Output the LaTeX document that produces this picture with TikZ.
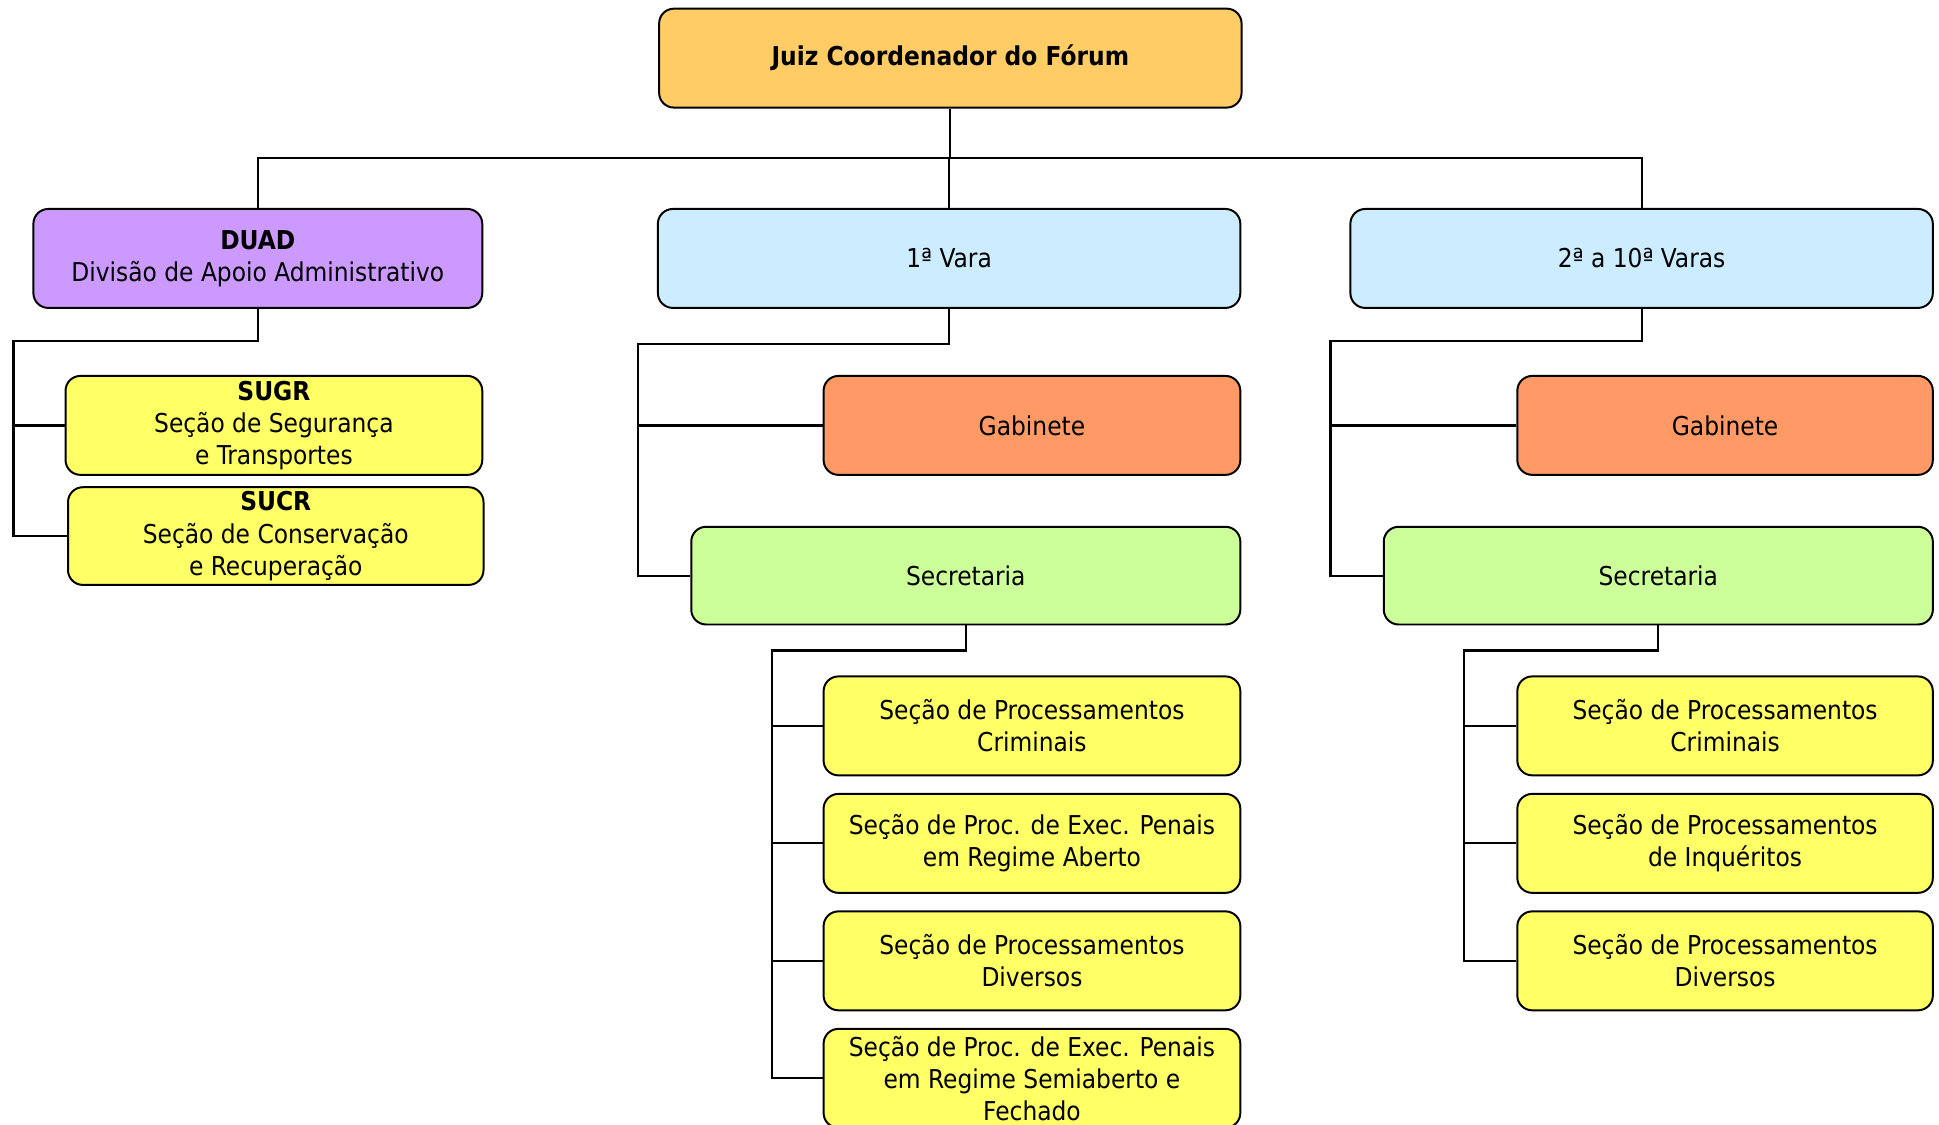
\documentclass[tikz,border=0pt]{standalone}
\usepackage{fontspec}
\setmainfont{DejaVu Sans Condensed}
\definecolor{cTop}{HTML}{FFCC66}
\definecolor{cDuad}{HTML}{CC99FF}
\definecolor{cVara}{HTML}{CCECFF}
\definecolor{cGab}{HTML}{FF9966}
\definecolor{cSec}{HTML}{CCFF99}
\definecolor{cSub}{HTML}{FFFF66}
\tikzset{
  box/.style={draw=black, line width=1.6pt, rounded corners=12pt, align=center,
    inner sep=0pt, text=black, font=\fontsize{21}{26}\selectfont},
  conn/.style={draw=black, line width=1.8pt},
}
\begin{document}
\begin{tikzpicture}[x=1pt,y=-1pt]
\useasboundingbox (0,0) rectangle (1568,909);
% level 0
\node[box, fill=cTop, minimum width=471pt, minimum height=80pt] (top) at (768.5,47) {\textbf{Juiz Coordenador do Fórum}};
% level 1
\node[box, fill=cDuad, minimum width=363pt, minimum height=80pt] (duad) at (208.5,209) {\textbf{DUAD}\\Divisão de Apoio Administrativo};
\node[box, fill=cVara, minimum width=471pt, minimum height=80pt] (vara1) at (767.5,209) {1ª Vara};
\node[box, fill=cVara, minimum width=471pt, minimum height=80pt] (vara2) at (1327.5,209) {2ª a 10ª Varas};
% DUAD children
\node[box, fill=cSub, minimum width=337pt, minimum height=80pt] (sugr) at (221.5,344) {\textbf{SUGR}\\Seção de Segurança\\e Transportes};
\node[box, fill=cSub, minimum width=336pt, minimum height=79pt] (sucr) at (223,433.5) {\textbf{SUCR}\\Seção de Conservação\\e Recuperação};
% 1a Vara children
\node[box, fill=cGab, minimum width=337pt, minimum height=80pt] (gab1) at (834.5,344) {Gabinete};
\node[box, fill=cSec, minimum width=444pt, minimum height=79pt] (sec1) at (781,465.5) {Secretaria};
\node[box, fill=cSub, minimum width=337pt, minimum height=80pt] (s1a) at (834.5,587) {Seção de Processamentos\\Criminais};
\node[box, fill=cSub, minimum width=337pt, minimum height=80pt] (s1b) at (834.5,682) {Seção de Proc. de Exec. Penais\\em Regime Aberto};
\node[box, fill=cSub, minimum width=337pt, minimum height=80pt] (s1c) at (834.5,777) {Seção de Processamentos\\Diversos};
\node[box, fill=cSub, minimum width=337pt, minimum height=80pt] (s1d) at (834.5,872) {Seção de Proc. de Exec. Penais\\em Regime Semiaberto e\\Fechado};
% 2a-10a Varas children
\node[box, fill=cGab, minimum width=336pt, minimum height=80pt] (gab2) at (1395,344) {Gabinete};
\node[box, fill=cSec, minimum width=444pt, minimum height=79pt] (sec2) at (1341,465.5) {Secretaria};
\node[box, fill=cSub, minimum width=336pt, minimum height=80pt] (s2a) at (1395,587) {Seção de Processamentos\\Criminais};
\node[box, fill=cSub, minimum width=336pt, minimum height=80pt] (s2b) at (1395,682) {Seção de Processamentos\\de Inquéritos};
\node[box, fill=cSub, minimum width=336pt, minimum height=80pt] (s2c) at (1395,777) {Seção de Processamentos\\Diversos};
% junction coordinates
\coordinate (bus) at (768.5,128);
\coordinate (dj) at (11,276);
\coordinate (v1j) at (516,278);
\coordinate (s1j) at (624,526);
\coordinate (v2j) at (1076,276);
\coordinate (s2j) at (1184,526);
% connectors
\draw[conn] (top.south) -- (bus);
\draw[conn] (duad.north) |- (bus) -- (vara2.north |- bus) -- (vara2.north);
\draw[conn] (vara1.north) -- (vara1.north |- bus);
\draw[conn] (duad.south) |- (dj) |- (sucr.west);
\draw[conn] (dj |- sugr.west) -- (sugr.west);
\draw[conn] (vara1.south) |- (v1j) |- (sec1.west);
\draw[conn] (v1j |- gab1.west) -- (gab1.west);
\draw[conn] (sec1.south) |- (s1j) |- (s1d.west);
\draw[conn] (s1j |- s1a.west) -- (s1a.west);
\draw[conn] (s1j |- s1b.west) -- (s1b.west);
\draw[conn] (s1j |- s1c.west) -- (s1c.west);
\draw[conn] (vara2.south) |- (v2j) |- (sec2.west);
\draw[conn] (v2j |- gab2.west) -- (gab2.west);
\draw[conn] (sec2.south) |- (s2j) |- (s2c.west);
\draw[conn] (s2j |- s2a.west) -- (s2a.west);
\draw[conn] (s2j |- s2b.west) -- (s2b.west);
\end{tikzpicture}
\end{document}
